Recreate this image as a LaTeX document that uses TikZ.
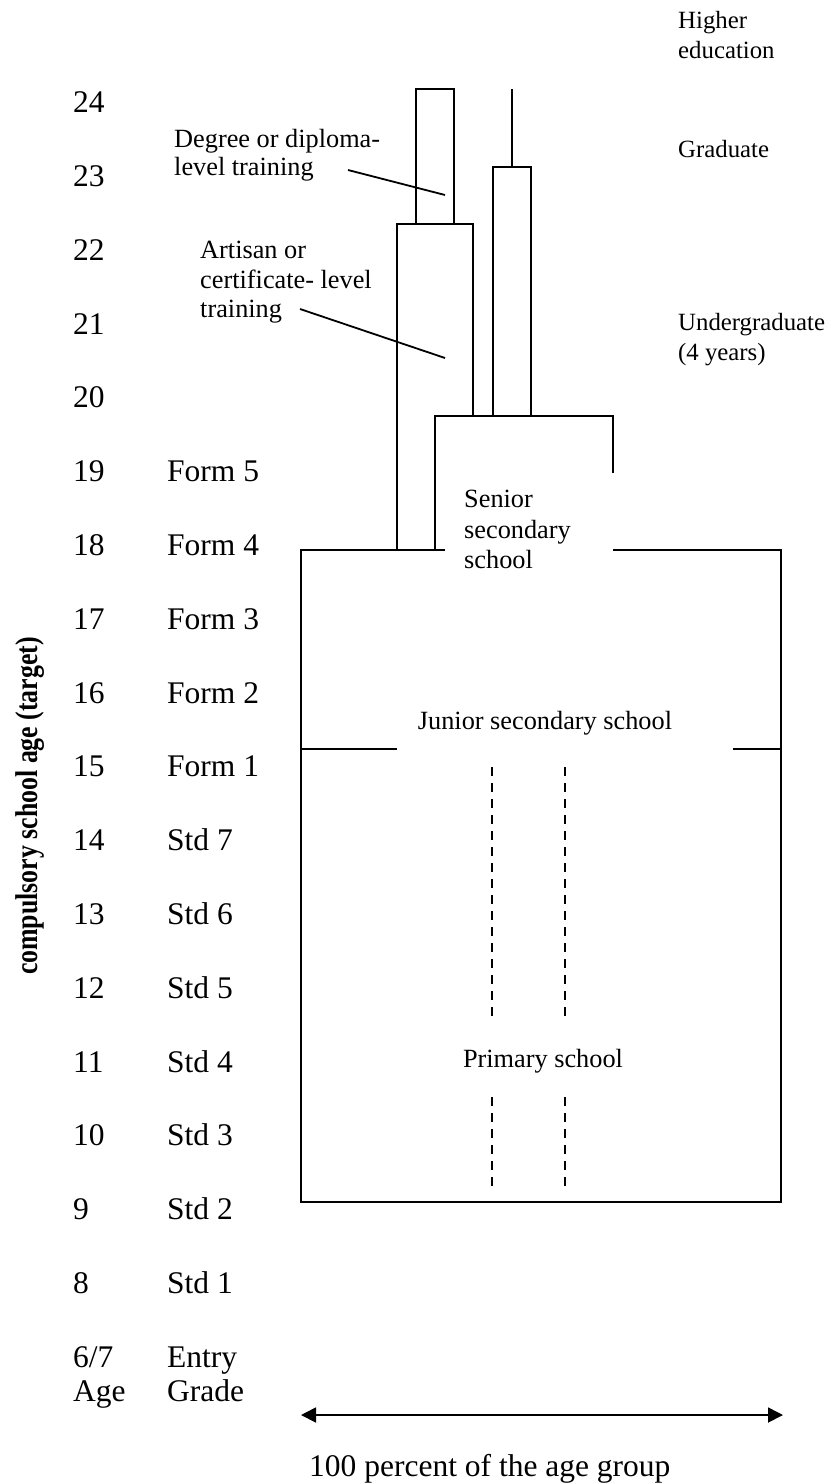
\documentclass[tikz,border=0pt]{standalone}
\usepackage{fontspec}
\usepackage{graphicx}
\setmainfont{Liberation Serif}
\usetikzlibrary{arrows.meta}
\newcommand{\bigfnt}{\fontsize{31.5}{36}\selectfont}
\newcommand{\smallfnt}{\fontsize{26.3}{30}\selectfont}
\newcommand{\rightfnt}{\fontsize{24.8}{29}\selectfont}
\begin{document}
\begin{tikzpicture}[x=1pt,y=-1pt,
  lab/.style={anchor=base west,inner sep=0pt,font=\bigfnt},
  txt/.style={anchor=base west,inner sep=0pt,font=\smallfnt},
  rtxt/.style={anchor=base west,inner sep=0pt,font=\rightfnt},
  ctxt/.style={anchor=base,inner sep=0pt,font=\smallfnt},
  edge/.style={line width=1.8pt,line join=miter},
  pointer/.style={line width=1.8pt},
  dashline/.style={line width=1.4pt,dash pattern=on 9pt off 7pt},
  bothtips/.style={line width=1.8pt,{Triangle[length=15pt,width=15pt]}-{Triangle[length=15pt,width=15pt]}}]
\useasboundingbox (0,0) rectangle (838,1483);

% left column: ages and grades
\foreach \a in {24,23,...,8}
  \node[lab] (age\a) at (73,{555.4+(18-\a)*73.8}) {\a};
\foreach \a/\g in {19/Form 5,18/Form 4,17/Form 3,16/Form 2,15/Form 1,14/Std 7,13/Std 6,12/Std 5,11/Std 4,10/Std 3,9/Std 2,8/Std 1}
  \node[lab] (grade\a) at (167,{555.4+(18-\a)*73.8}) {\g};
\node[lab] (age67) at (73,1367) {6/7};
\node[lab] (entry) at (167,1367) {Entry};
\node[lab] (agehead) at (73,1401) {Age};
\node[lab] (gradehead) at (167,1401) {Grade};

% rotated label
\node[rotate=90,inner sep=0pt,font=\bfseries\bigfnt] (vlab) at (30,806)
  {\scalebox{0.82}[1]{compulsory school age (target)}};

% tertiary boxes
\draw[edge] (416,224) -- (416,89) -- (454,89) -- (454,224);
\draw[edge] (397,550) -- (397,224) -- (473,224) -- (473,416);
\draw[edge] (493,416) -- (493,167) -- (531,167) -- (531,416);
\draw[edge] (512,167) -- (512,89);

% senior secondary box
\draw[edge] (435,550) -- (435,416) -- (613,416) -- (613,473);

% main box
\draw[edge] (445,550) -- (301,550) -- (301,1202) -- (781,1202) -- (781,550) -- (613,550);
\draw[edge] (301,749) -- (397,749);
\draw[edge] (733,749) -- (781,749);

% dashed lines
\draw[dashline] (492,767) -- (492,1020);
\draw[dashline] (565,767) -- (565,1020);
\draw[dashline] (492,1097) -- (492,1190);
\draw[dashline] (565,1097) -- (565,1190);

% training labels
\node[txt] (deg1) at (174,147) {Degree or diploma-};
\node[txt] (deg2) at (174,175) {level training};
\node[txt] (art1) at (200,258) {Artisan or};
\node[txt] (art2) at (200,288) {certificate- level};
\node[txt] (art3) at (200,317) {training};
\coordinate (degfrom) at (348,170);
\coordinate (degto) at (445,195);
\coordinate (artfrom) at (300,309);
\coordinate (artto) at (445,358);
\draw[pointer] (degfrom) -- (degto);
\draw[pointer] (artfrom) -- (artto);

% school labels
\node[txt] (sen1) at (464,507) {Senior};
\node[txt] (sen2) at (464,538) {secondary};
\node[txt] (sen3) at (464,568) {school};
\node[ctxt] (junior) at (545,729) {Junior secondary school};
\node[ctxt] (primary) at (543,1067) {Primary school};

% right column
\node[rtxt] (he1) at (678,28) {Higher};
\node[rtxt] (he2) at (678,58) {education};
\node[rtxt] (grad) at (678,157) {Graduate};
\node[rtxt] (ug1) at (678,330) {Undergraduate};
\node[rtxt] (ug2) at (678,360) {(4 years)};

% bottom arrow
\coordinate (arrL) at (301,1415);
\coordinate (arrR) at (783,1415);
\draw[bothtips] (arrL) -- (arrR);
\node[lab] (pct) at (309,1476) {100 percent of the age group};
\end{tikzpicture}
\end{document}
